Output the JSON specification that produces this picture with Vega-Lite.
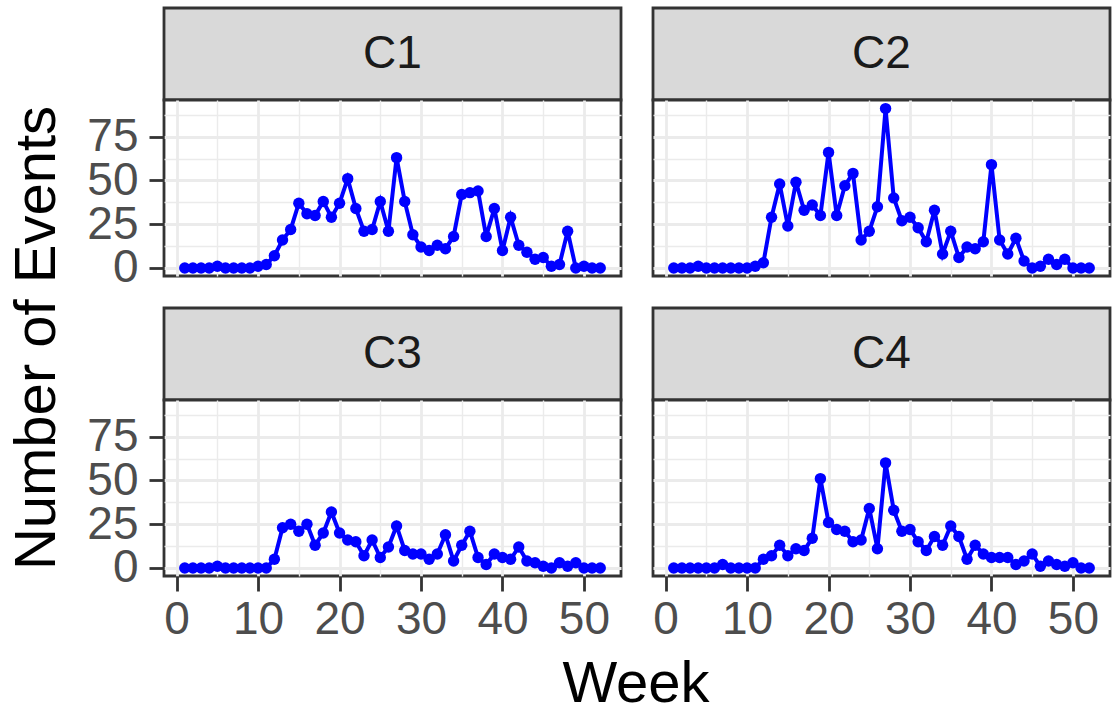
{
  "$schema": "https://vega.github.io/schema/vega-lite/v6.json",
  "padding": {"left": 0, "top": 6, "right": 0, "bottom": 0},
  "background": "#FFFFFF",
  "config": {"font": "Liberation Sans", "view": {"stroke": null}, "axis": {"labelFont": "Liberation Sans", "minExtent": 0}},
  "datasets": {
    "events": [
      {"panel":"C1","week":1,"events":0},{"panel":"C1","week":2,"events":0},{"panel":"C1","week":3,"events":0},{"panel":"C1","week":4,"events":0},{"panel":"C1","week":5,"events":1},{"panel":"C1","week":6,"events":0},{"panel":"C1","week":7,"events":0},{"panel":"C1","week":8,"events":0},{"panel":"C1","week":9,"events":0},{"panel":"C1","week":10,"events":1},
      {"panel":"C1","week":11,"events":2},{"panel":"C1","week":12,"events":7},{"panel":"C1","week":13,"events":16},{"panel":"C1","week":14,"events":22},{"panel":"C1","week":15,"events":37},{"panel":"C1","week":16,"events":31},{"panel":"C1","week":17,"events":30},{"panel":"C1","week":18,"events":38},{"panel":"C1","week":19,"events":29},{"panel":"C1","week":20,"events":37},
      {"panel":"C1","week":21,"events":51},{"panel":"C1","week":22,"events":34},{"panel":"C1","week":23,"events":21},{"panel":"C1","week":24,"events":22},{"panel":"C1","week":25,"events":38},{"panel":"C1","week":26,"events":21},{"panel":"C1","week":27,"events":63},{"panel":"C1","week":28,"events":38},{"panel":"C1","week":29,"events":19},{"panel":"C1","week":30,"events":12},
      {"panel":"C1","week":31,"events":10},{"panel":"C1","week":32,"events":13},{"panel":"C1","week":33,"events":11},{"panel":"C1","week":34,"events":18},{"panel":"C1","week":35,"events":42},{"panel":"C1","week":36,"events":43},{"panel":"C1","week":37,"events":44},{"panel":"C1","week":38,"events":18},{"panel":"C1","week":39,"events":34},{"panel":"C1","week":40,"events":10},
      {"panel":"C1","week":41,"events":29},{"panel":"C1","week":42,"events":13},{"panel":"C1","week":43,"events":9},{"panel":"C1","week":44,"events":5},{"panel":"C1","week":45,"events":6},{"panel":"C1","week":46,"events":1},{"panel":"C1","week":47,"events":2},{"panel":"C1","week":48,"events":21},{"panel":"C1","week":49,"events":0},{"panel":"C1","week":50,"events":1},
      {"panel":"C1","week":51,"events":0},{"panel":"C1","week":52,"events":0},
      {"panel":"C2","week":1,"events":0},{"panel":"C2","week":2,"events":0},{"panel":"C2","week":3,"events":0},{"panel":"C2","week":4,"events":1},{"panel":"C2","week":5,"events":0},{"panel":"C2","week":6,"events":0},{"panel":"C2","week":7,"events":0},{"panel":"C2","week":8,"events":0},{"panel":"C2","week":9,"events":0},{"panel":"C2","week":10,"events":0},
      {"panel":"C2","week":11,"events":1},{"panel":"C2","week":12,"events":3},{"panel":"C2","week":13,"events":29},{"panel":"C2","week":14,"events":48},{"panel":"C2","week":15,"events":24},{"panel":"C2","week":16,"events":49},{"panel":"C2","week":17,"events":33},{"panel":"C2","week":18,"events":36},{"panel":"C2","week":19,"events":30},{"panel":"C2","week":20,"events":66},
      {"panel":"C2","week":21,"events":30},{"panel":"C2","week":22,"events":47},{"panel":"C2","week":23,"events":54},{"panel":"C2","week":24,"events":16},{"panel":"C2","week":25,"events":21},{"panel":"C2","week":26,"events":35},{"panel":"C2","week":27,"events":91},{"panel":"C2","week":28,"events":40},{"panel":"C2","week":29,"events":27},{"panel":"C2","week":30,"events":29},
      {"panel":"C2","week":31,"events":23},{"panel":"C2","week":32,"events":15},{"panel":"C2","week":33,"events":33},{"panel":"C2","week":34,"events":8},{"panel":"C2","week":35,"events":21},{"panel":"C2","week":36,"events":6},{"panel":"C2","week":37,"events":12},{"panel":"C2","week":38,"events":11},{"panel":"C2","week":39,"events":15},{"panel":"C2","week":40,"events":59},
      {"panel":"C2","week":41,"events":16},{"panel":"C2","week":42,"events":8},{"panel":"C2","week":43,"events":17},{"panel":"C2","week":44,"events":4},{"panel":"C2","week":45,"events":0},{"panel":"C2","week":46,"events":1},{"panel":"C2","week":47,"events":5},{"panel":"C2","week":48,"events":2},{"panel":"C2","week":49,"events":5},{"panel":"C2","week":50,"events":0},
      {"panel":"C2","week":51,"events":0},{"panel":"C2","week":52,"events":0},
      {"panel":"C3","week":1,"events":0},{"panel":"C3","week":2,"events":0},{"panel":"C3","week":3,"events":0},{"panel":"C3","week":4,"events":0},{"panel":"C3","week":5,"events":1},{"panel":"C3","week":6,"events":0},{"panel":"C3","week":7,"events":0},{"panel":"C3","week":8,"events":0},{"panel":"C3","week":9,"events":0},{"panel":"C3","week":10,"events":0},
      {"panel":"C3","week":11,"events":0},{"panel":"C3","week":12,"events":5},{"panel":"C3","week":13,"events":23},{"panel":"C3","week":14,"events":25},{"panel":"C3","week":15,"events":21},{"panel":"C3","week":16,"events":25},{"panel":"C3","week":17,"events":13},{"panel":"C3","week":18,"events":20},{"panel":"C3","week":19,"events":32},{"panel":"C3","week":20,"events":20},
      {"panel":"C3","week":21,"events":16},{"panel":"C3","week":22,"events":15},{"panel":"C3","week":23,"events":7},{"panel":"C3","week":24,"events":16},{"panel":"C3","week":25,"events":6},{"panel":"C3","week":26,"events":12},{"panel":"C3","week":27,"events":24},{"panel":"C3","week":28,"events":10},{"panel":"C3","week":29,"events":8},{"panel":"C3","week":30,"events":8},
      {"panel":"C3","week":31,"events":5},{"panel":"C3","week":32,"events":8},{"panel":"C3","week":33,"events":19},{"panel":"C3","week":34,"events":4},{"panel":"C3","week":35,"events":13},{"panel":"C3","week":36,"events":21},{"panel":"C3","week":37,"events":6},{"panel":"C3","week":38,"events":2},{"panel":"C3","week":39,"events":8},{"panel":"C3","week":40,"events":6},
      {"panel":"C3","week":41,"events":5},{"panel":"C3","week":42,"events":12},{"panel":"C3","week":43,"events":4},{"panel":"C3","week":44,"events":3},{"panel":"C3","week":45,"events":1},{"panel":"C3","week":46,"events":0},{"panel":"C3","week":47,"events":3},{"panel":"C3","week":48,"events":1},{"panel":"C3","week":49,"events":3},{"panel":"C3","week":50,"events":0},
      {"panel":"C3","week":51,"events":0},{"panel":"C3","week":52,"events":0},
      {"panel":"C4","week":1,"events":0},{"panel":"C4","week":2,"events":0},{"panel":"C4","week":3,"events":0},{"panel":"C4","week":4,"events":0},{"panel":"C4","week":5,"events":0},{"panel":"C4","week":6,"events":0},{"panel":"C4","week":7,"events":2},{"panel":"C4","week":8,"events":0},{"panel":"C4","week":9,"events":0},{"panel":"C4","week":10,"events":0},
      {"panel":"C4","week":11,"events":0},{"panel":"C4","week":12,"events":5},{"panel":"C4","week":13,"events":7},{"panel":"C4","week":14,"events":13},{"panel":"C4","week":15,"events":7},{"panel":"C4","week":16,"events":11},{"panel":"C4","week":17,"events":10},{"panel":"C4","week":18,"events":17},{"panel":"C4","week":19,"events":51},{"panel":"C4","week":20,"events":26},
      {"panel":"C4","week":21,"events":22},{"panel":"C4","week":22,"events":21},{"panel":"C4","week":23,"events":15},{"panel":"C4","week":24,"events":16},{"panel":"C4","week":25,"events":34},{"panel":"C4","week":26,"events":11},{"panel":"C4","week":27,"events":60},{"panel":"C4","week":28,"events":33},{"panel":"C4","week":29,"events":21},{"panel":"C4","week":30,"events":22},
      {"panel":"C4","week":31,"events":15},{"panel":"C4","week":32,"events":10},{"panel":"C4","week":33,"events":18},{"panel":"C4","week":34,"events":13},{"panel":"C4","week":35,"events":24},{"panel":"C4","week":36,"events":18},{"panel":"C4","week":37,"events":5},{"panel":"C4","week":38,"events":13},{"panel":"C4","week":39,"events":8},{"panel":"C4","week":40,"events":6},
      {"panel":"C4","week":41,"events":6},{"panel":"C4","week":42,"events":6},{"panel":"C4","week":43,"events":2},{"panel":"C4","week":44,"events":4},{"panel":"C4","week":45,"events":8},{"panel":"C4","week":46,"events":1},{"panel":"C4","week":47,"events":4},{"panel":"C4","week":48,"events":2},{"panel":"C4","week":49,"events":1},{"panel":"C4","week":50,"events":3},
      {"panel":"C4","week":51,"events":0},{"panel":"C4","week":52,"events":0}
    ]
  },
  "spacing": 9,
  "hconcat": [
    {
      "width": 76, "height": 660,
      "view": {"stroke": null},
      "data": {"values": [{"t": "Number of Events"}]},
      "mark": {"type": "text", "angle": 270, "fontSize": 58, "align": "center", "baseline": "middle", "color": "#000000"},
      "encoding": {"text": {"field": "t", "type": "nominal"}}
    },
    {
      "spacing": 0,
      "vconcat": [
        {
          "spacing": 13,
          "vconcat": [
            {
              "spacing": 28,
              "hconcat": [
                {
                  "spacing": 0,
                  "bounds": "flush",
                  "vconcat": [
                    {"width": 457, "height": 92, "view": {"fill": "#D9D9D9", "stroke": "#333333", "strokeWidth": 2.8},
                     "data": {"values": [{"label": "C1"}]},
                     "mark": {"type": "text", "fontSize": 46, "color": "#1A1A1A", "align": "center", "baseline": "middle"},
                     "encoding": {"text": {"field": "label", "type": "nominal"}}},
                    {"width": 457, "height": 176, "view": {"fill": "#FFFFFF", "stroke": "#333333", "strokeWidth": 2.8},
                     "data": {"name": "events"},
                     "transform": [{"filter": "datum.panel === 'C1'"}],
                     "encoding": {
                       "x": {"field": "week", "type": "quantitative", "scale": {"domain": [-1.55, 54.55], "nice": false, "zero": false},
                             "axis": {"values": [0, 5, 10, 15, 20, 25, 30, 35, 40, 45, 50], "grid": true, "gridColor": "#EBEBEB", "gridWidth": {"condition": {"test": "datum.value % 10 === 0", "value": 2.8}, "value": 1.4}, "domain": false, "ticks": false, "labels": false, "minExtent": 0, "maxExtent": 0, "title": null}},
                       "y": {"field": "events", "type": "quantitative", "scale": {"domain": [-4.57, 95.9], "nice": false, "zero": false},
                             "axis": {"values": [0, 12.5, 25, 37.5, 50, 62.5, 75, 87.5], "grid": true, "gridColor": "#EBEBEB", "gridWidth": {"condition": {"test": "datum.value % 25 === 0", "value": 2.8}, "value": 1.4}, "domain": false, "ticks": true, "tickColor": "#333333", "tickWidth": 2.8, "tickSize": 15, "tickOpacity": {"condition": {"test": "datum.value % 25 === 0", "value": 1}, "value": 0}, "labelExpr": "datum.value % 25 === 0 ? datum.label : ''", "labelFontSize": 46, "labelColor": "#4D4D4D", "labelPadding": 11, "labelFlush": false, "labelOverlap": false, "minExtent": 0, "title": null}}
                     },
                     "layer": [
                       {"mark": {"type": "line", "color": "#0000FF", "strokeWidth": 4}},
                       {"mark": {"type": "circle", "color": "#0000FF", "size": 130, "opacity": 1}}
                     ]}
                  ]
                },
                {
                  "spacing": 0,
                  "bounds": "flush",
                  "vconcat": [
                    {"width": 457, "height": 92, "view": {"fill": "#D9D9D9", "stroke": "#333333", "strokeWidth": 2.8},
                     "data": {"values": [{"label": "C2"}]},
                     "mark": {"type": "text", "fontSize": 46, "color": "#1A1A1A", "align": "center", "baseline": "middle"},
                     "encoding": {"text": {"field": "label", "type": "nominal"}}},
                    {"width": 457, "height": 176, "view": {"fill": "#FFFFFF", "stroke": "#333333", "strokeWidth": 2.8},
                     "data": {"name": "events"},
                     "transform": [{"filter": "datum.panel === 'C2'"}],
                     "encoding": {
                       "x": {"field": "week", "type": "quantitative", "scale": {"domain": [-1.55, 54.55], "nice": false, "zero": false},
                             "axis": {"values": [0, 5, 10, 15, 20, 25, 30, 35, 40, 45, 50], "grid": true, "gridColor": "#EBEBEB", "gridWidth": {"condition": {"test": "datum.value % 10 === 0", "value": 2.8}, "value": 1.4}, "domain": false, "ticks": false, "labels": false, "minExtent": 0, "maxExtent": 0, "title": null}},
                       "y": {"field": "events", "type": "quantitative", "scale": {"domain": [-4.57, 95.9], "nice": false, "zero": false},
                             "axis": {"values": [0, 12.5, 25, 37.5, 50, 62.5, 75, 87.5], "grid": true, "gridColor": "#EBEBEB", "gridWidth": {"condition": {"test": "datum.value % 25 === 0", "value": 2.8}, "value": 1.4}, "domain": false, "ticks": false, "labels": false, "minExtent": 0, "maxExtent": 0, "title": null}}
                     },
                     "layer": [
                       {"mark": {"type": "line", "color": "#0000FF", "strokeWidth": 4}},
                       {"mark": {"type": "circle", "color": "#0000FF", "size": 130, "opacity": 1}}
                     ]}
                  ]
                }
              ]
            },
            {
              "spacing": 28,
              "hconcat": [
                {
                  "spacing": 0,
                  "bounds": "flush",
                  "vconcat": [
                    {"width": 457, "height": 92, "view": {"fill": "#D9D9D9", "stroke": "#333333", "strokeWidth": 2.8},
                     "data": {"values": [{"label": "C3"}]},
                     "mark": {"type": "text", "fontSize": 46, "color": "#1A1A1A", "align": "center", "baseline": "middle"},
                     "encoding": {"text": {"field": "label", "type": "nominal"}}},
                    {"width": 457, "height": 176, "view": {"fill": "#FFFFFF", "stroke": "#333333", "strokeWidth": 2.8},
                     "data": {"name": "events"},
                     "transform": [{"filter": "datum.panel === 'C3'"}],
                     "encoding": {
                       "x": {"field": "week", "type": "quantitative", "scale": {"domain": [-1.55, 54.55], "nice": false, "zero": false},
                             "axis": {"values": [0, 5, 10, 15, 20, 25, 30, 35, 40, 45, 50], "grid": true, "gridColor": "#EBEBEB", "gridWidth": {"condition": {"test": "datum.value % 10 === 0", "value": 2.8}, "value": 1.4}, "domain": false, "ticks": true, "tickColor": "#333333", "tickWidth": 2.8, "tickSize": 15, "tickOpacity": {"condition": {"test": "datum.value % 10 === 0", "value": 1}, "value": 0}, "labelExpr": "datum.value % 10 === 0 ? datum.label : ''", "labelFontSize": 46, "labelColor": "#4D4D4D", "labelPadding": 6, "labelFlush": false, "labelOverlap": false, "minExtent": 0, "title": null}},
                       "y": {"field": "events", "type": "quantitative", "scale": {"domain": [-4.57, 95.9], "nice": false, "zero": false},
                             "axis": {"values": [0, 12.5, 25, 37.5, 50, 62.5, 75, 87.5], "grid": true, "gridColor": "#EBEBEB", "gridWidth": {"condition": {"test": "datum.value % 25 === 0", "value": 2.8}, "value": 1.4}, "domain": false, "ticks": true, "tickColor": "#333333", "tickWidth": 2.8, "tickSize": 15, "tickOpacity": {"condition": {"test": "datum.value % 25 === 0", "value": 1}, "value": 0}, "labelExpr": "datum.value % 25 === 0 ? datum.label : ''", "labelFontSize": 46, "labelColor": "#4D4D4D", "labelPadding": 11, "labelFlush": false, "labelOverlap": false, "minExtent": 0, "title": null}}
                     },
                     "layer": [
                       {"mark": {"type": "line", "color": "#0000FF", "strokeWidth": 4}},
                       {"mark": {"type": "circle", "color": "#0000FF", "size": 130, "opacity": 1}}
                     ]}
                  ]
                },
                {
                  "spacing": 0,
                  "bounds": "flush",
                  "vconcat": [
                    {"width": 457, "height": 92, "view": {"fill": "#D9D9D9", "stroke": "#333333", "strokeWidth": 2.8},
                     "data": {"values": [{"label": "C4"}]},
                     "mark": {"type": "text", "fontSize": 46, "color": "#1A1A1A", "align": "center", "baseline": "middle"},
                     "encoding": {"text": {"field": "label", "type": "nominal"}}},
                    {"width": 457, "height": 176, "view": {"fill": "#FFFFFF", "stroke": "#333333", "strokeWidth": 2.8},
                     "data": {"name": "events"},
                     "transform": [{"filter": "datum.panel === 'C4'"}],
                     "encoding": {
                       "x": {"field": "week", "type": "quantitative", "scale": {"domain": [-1.55, 54.55], "nice": false, "zero": false},
                             "axis": {"values": [0, 5, 10, 15, 20, 25, 30, 35, 40, 45, 50], "grid": true, "gridColor": "#EBEBEB", "gridWidth": {"condition": {"test": "datum.value % 10 === 0", "value": 2.8}, "value": 1.4}, "domain": false, "ticks": true, "tickColor": "#333333", "tickWidth": 2.8, "tickSize": 15, "tickOpacity": {"condition": {"test": "datum.value % 10 === 0", "value": 1}, "value": 0}, "labelExpr": "datum.value % 10 === 0 ? datum.label : ''", "labelFontSize": 46, "labelColor": "#4D4D4D", "labelPadding": 6, "labelFlush": false, "labelOverlap": false, "minExtent": 0, "title": null}},
                       "y": {"field": "events", "type": "quantitative", "scale": {"domain": [-4.57, 95.9], "nice": false, "zero": false},
                             "axis": {"values": [0, 12.5, 25, 37.5, 50, 62.5, 75, 87.5], "grid": true, "gridColor": "#EBEBEB", "gridWidth": {"condition": {"test": "datum.value % 25 === 0", "value": 2.8}, "value": 1.4}, "domain": false, "ticks": false, "labels": false, "minExtent": 0, "maxExtent": 0, "title": null}}
                     },
                     "layer": [
                       {"mark": {"type": "line", "color": "#0000FF", "strokeWidth": 4}},
                       {"mark": {"type": "circle", "color": "#0000FF", "size": 130, "opacity": 1}}
                     ]}
                  ]
                }
              ]
            }
          ]
        },
        {
          "width": 944, "height": 56,
          "view": {"stroke": null},
          "data": {"values": [{"t": "Week"}]},
          "mark": {"type": "text", "fontSize": 58, "align": "center", "baseline": "middle", "color": "#000000", "dy": 13},
          "encoding": {"text": {"field": "t", "type": "nominal"}}
        }
      ]
    }
  ]
}
